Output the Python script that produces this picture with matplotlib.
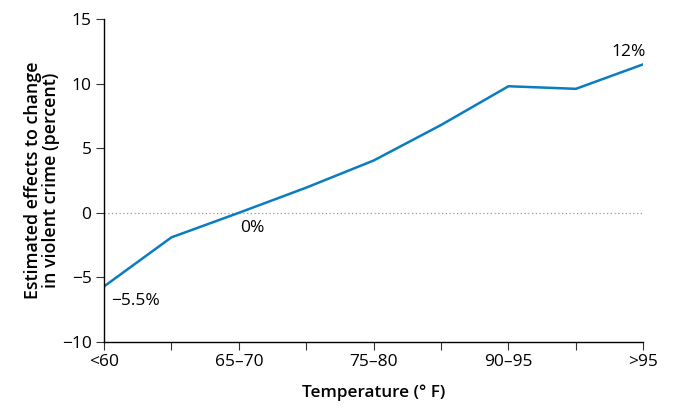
import matplotlib.pyplot as plt

# temperature bins (only some are labelled in the original)
bins = ["<60", "", "65\u201370", "", "75\u201380", "", "90\u201395", "", ">95"]
effect = [-5.7, -1.9, 0.0, 1.95, 4.05, 6.8, 9.8, 9.6, 11.5]

plt.rcParams['font.family'] = ['Open Sans', 'DejaVu Sans']

fig = plt.figure(figsize=(6.8, 4.15), dpi=100)
ax = fig.add_axes([0.153, 0.176, 0.793, 0.778])

x = list(range(len(effect)))
ax.axhline(0, color="#999999", lw=0.9, ls=(0, (1, 2)), zorder=1)
ax.plot(x, effect, color="#0a7cc1", lw=1.8, zorder=2)

ax.set_xlim(0, len(effect) - 1)
ax.set_ylim(-10, 15)
ax.set_xticks(x)
ax.set_xticklabels(bins)
ax.set_yticks([-10, -5, 0, 5, 10, 15])
ax.set_yticklabels(["\u221210", "\u22125", "0", "5", "10", "15"])
ax.tick_params(labelsize=12.5, length=6, width=0.8, color="#333333", pad=3)

for side in ["top", "right"]:
    ax.spines[side].set_visible(False)
for side in ["left", "bottom"]:
    ax.spines[side].set_linewidth(1.0)

ax.set_xlabel("Temperature (\u00b0 F)", fontsize=12.3, fontweight="semibold", labelpad=10)
ax.set_ylabel("Estimated effects to change\nin violent crime (percent)",
              fontsize=12.8, fontweight="semibold", labelpad=1, linespacing=1.0)

# value call-outs
ax.annotate("\u22125.5%", (x[0], effect[0]), xytext=(5, -5), textcoords="offset points",
            ha="left", va="top", fontsize=12.5)
ax.annotate("0%", (x[2], effect[2]), xytext=(1, -5), textcoords="offset points",
            ha="left", va="top", fontsize=12.5)
ax.annotate("12%", (x[-1], effect[-1]), xytext=(2, 3), textcoords="offset points",
            ha="right", va="bottom", fontsize=12.5)

fig.savefig("out.png", dpi=100)
